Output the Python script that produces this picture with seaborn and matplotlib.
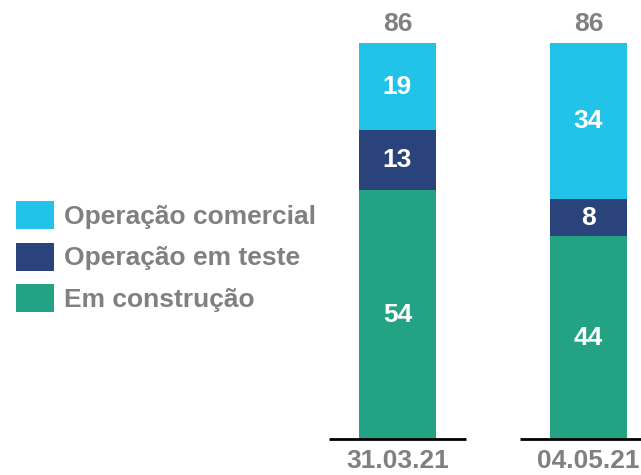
import matplotlib
matplotlib.use("Agg")
import matplotlib.pyplot as plt
import pandas as pd
import seaborn as sns

# Data
dates = ["31.03.21", "04.05.21"]
em_construcao = [54, 44]
operacao_teste = [13, 8]
operacao_comercial = [19, 34]

c_comercial = "#22C3E8"
c_teste = "#2B437B"
c_construcao = "#24A384"
gray = "#808080"

df = pd.DataFrame({
    "data": dates,
    "construcao": em_construcao,
    "teste": operacao_teste,
    "comercial": operacao_comercial,
})
df["ate_teste"] = df["construcao"] + df["teste"]
df["total"] = df["ate_teste"] + df["comercial"]

sns.set_style("white")
plt.rcParams["font.family"] = ["Liberation Sans", "DejaVu Sans"]
plt.rcParams["font.weight"] = "bold"

fig = plt.figure(figsize=(6.41, 4.75), dpi=100)
ax = fig.add_axes([300 / 641, 36 / 475, 341 / 641, 439 / 475])

w = 0.403
fs = 19
# stacked bars: draw cumulative heights, largest first
sns.barplot(data=df, x="data", y="total", order=dates, color=c_comercial,
            width=w, saturation=1, linewidth=0, label="Operação comercial", ax=ax)
sns.barplot(data=df, x="data", y="ate_teste", order=dates, color=c_teste,
            width=w, saturation=1, linewidth=0, label="Operação em teste", ax=ax)
sns.barplot(data=df, x="data", y="construcao", order=dates, color=c_construcao,
            width=w, saturation=1, linewidth=0, label="Em construção", ax=ax)

for i, row in df.iterrows():
    ax.text(i, row["construcao"] / 2, str(row["construcao"]), color="white",
            ha="center", va="center", fontsize=fs, fontweight="bold")
    ax.text(i, row["construcao"] + row["teste"] / 2, str(row["teste"]), color="white",
            ha="center", va="center", fontsize=fs, fontweight="bold")
    ax.text(i, row["ate_teste"] + row["comercial"] / 2, str(row["comercial"]), color="white",
            ha="center", va="center", fontsize=fs, fontweight="bold")
    ax.annotate(str(row["total"]), (i, row["total"]), xytext=(0, 5),
                textcoords="offset points", ha="center", va="bottom",
                color=gray, fontsize=fs, fontweight="bold")
    ax.hlines(0, i - 0.36, i + 0.36, color="black", lw=2, clip_on=False)

ax.set_xlim(-0.5105, 1.275)
ax.set_ylim(0, 95.3)
ax.set_xlabel("")
ax.set_ylabel("")
ax.set_yticks([])
ax.tick_params(axis="x", length=0, pad=7, labelsize=fs, labelcolor=gray)
for t in ax.get_xticklabels():
    t.set_fontweight("bold")
sns.despine(ax=ax, left=True, bottom=True)

handles, labels = ax.get_legend_handles_labels()
leg = ax.legend(handles, labels, loc="upper left",
                bbox_to_anchor=(16 / 641, 1 - 201 / 475),
                bbox_transform=fig.transFigure, frameon=False,
                fontsize=fs, handlelength=1.45, handleheight=1.25,
                handletextpad=0.38, labelspacing=0.52, borderpad=0,
                borderaxespad=0)
for t in leg.get_texts():
    t.set_color(gray)
    t.set_fontweight("bold")

fig.savefig("out.png", dpi=100)
